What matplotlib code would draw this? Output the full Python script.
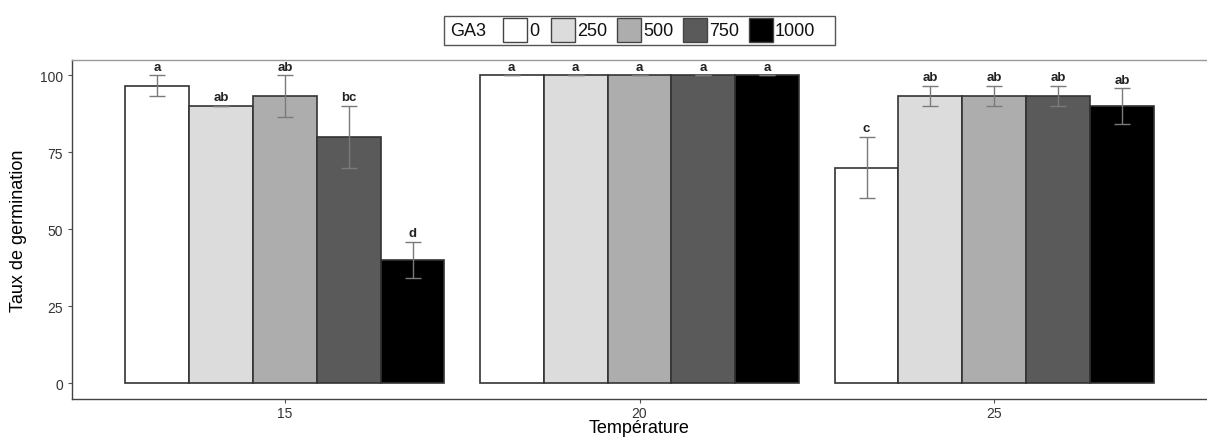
import matplotlib
matplotlib.use("Agg")
import matplotlib.pyplot as plt
from matplotlib.patches import Rectangle
import numpy as np

plt.rcParams['font.family'] = ['Liberation Sans', 'DejaVu Sans']

temperatures = ["15", "20", "25"]
ga3_levels = ["0", "250", "500", "750", "1000"]
fill_colors = ["#ffffff", "#dcdcdc", "#adadad", "#5a5a5a", "#000000"]

# germination rate per GA3 level for each temperature
means = {
    "0":    [96.7, 100, 70.0],
    "250":  [90.0, 100, 93.3],
    "500":  [93.3, 100, 93.3],
    "750":  [80.0, 100, 93.3],
    "1000": [40.0, 100, 90.0],
}
errors = {
    "0":    [3.33, 0, 10.0],
    "250":  [0.0, 0, 3.33],
    "500":  [6.67, 0, 3.33],
    "750":  [10.0, 0, 3.33],
    "1000": [5.77, 0, 5.77],
}
letters = {
    "0":    ["a", "a", "c"],
    "250":  ["ab", "a", "ab"],
    "500":  ["ab", "a", "ab"],
    "750":  ["bc", "a", "ab"],
    "1000": ["d", "a", "ab"],
}

W, H = 1207, 439
fig = plt.figure(figsize=(W / 100, H / 100), dpi=100)
ax = fig.add_axes([72 / W, 1 - 400 / H, (W - 72) / W, (400 - 61) / H])

x = np.arange(len(temperatures))
bw = 0.18
n = len(ga3_levels)
for i, lvl in enumerate(ga3_levels):
    xs = x + (i - (n - 1) / 2) * bw
    ax.bar(xs, means[lvl], width=bw, color=fill_colors[i], edgecolor="#333333",
           linewidth=1.2, zorder=2)
    ax.errorbar(xs, means[lvl], yerr=errors[lvl], fmt="none", ecolor="#7a7a7a",
                elinewidth=1.0, capsize=5.5, capthick=1.0, zorder=3)
    for xi, m, e, t in zip(xs, means[lvl], errors[lvl], letters[lvl]):
        ax.annotate(t, (xi, m + e), xytext=(0, 2), textcoords="offset points",
                    ha="center", va="bottom", fontsize=9.5, fontweight="bold",
                    color="#222222", zorder=4)

ax.set_xlim(-0.6, 2.6)
ax.set_ylim(-5.2, 105)
ax.set_xticks(x)
ax.set_xticklabels(temperatures)
ax.set_yticks([0, 25, 50, 75, 100])
ax.tick_params(axis="both", colors="#555555", labelcolor="#333333", labelsize=10,
               length=3, width=0.8)
ax.tick_params(axis="x", pad=2)
ax.set_xlabel("Température", fontsize=13, labelpad=-1)
ax.set_ylabel("Taux de germination", fontsize=13, labelpad=9)
for s in ["left", "bottom"]:
    ax.spines[s].set_color("#444444")
    ax.spines[s].set_linewidth(1.0)
ax.spines["top"].set_color("#999999")
ax.spines["top"].set_linewidth(1.0)
ax.spines["right"].set_visible(False)

# legend drawn manually in figure pixel coordinates
def fx(px):
    return px / W

def fy(py):
    return 1 - py / H

box_l, box_r, box_t, box_b = 444, 835, 17, 46
fig.patches.append(Rectangle((fx(box_l), fy(box_b)), fx(box_r - box_l), (box_b - box_t) / H,
                             transform=fig.transFigure, facecolor="white",
                             edgecolor="#555555", linewidth=1.0))
fig.text(fx(450), fy(31.5), "GA3", fontsize=13, ha="left", va="center", color="#111111")
key_x = [503, 551, 617, 683, 749]
for i, lvl in enumerate(ga3_levels):
    kx = key_x[i]
    fig.patches.append(Rectangle((fx(kx), fy(43)), fx(24), 24 / H,
                                 transform=fig.transFigure, facecolor=fill_colors[i],
                                 edgecolor="#444444", linewidth=1.0))
    fig.text(fx(kx + 26), fy(31.5), lvl, fontsize=13, ha="left", va="center",
             color="#111111")

fig.savefig("out.png", dpi=100)
